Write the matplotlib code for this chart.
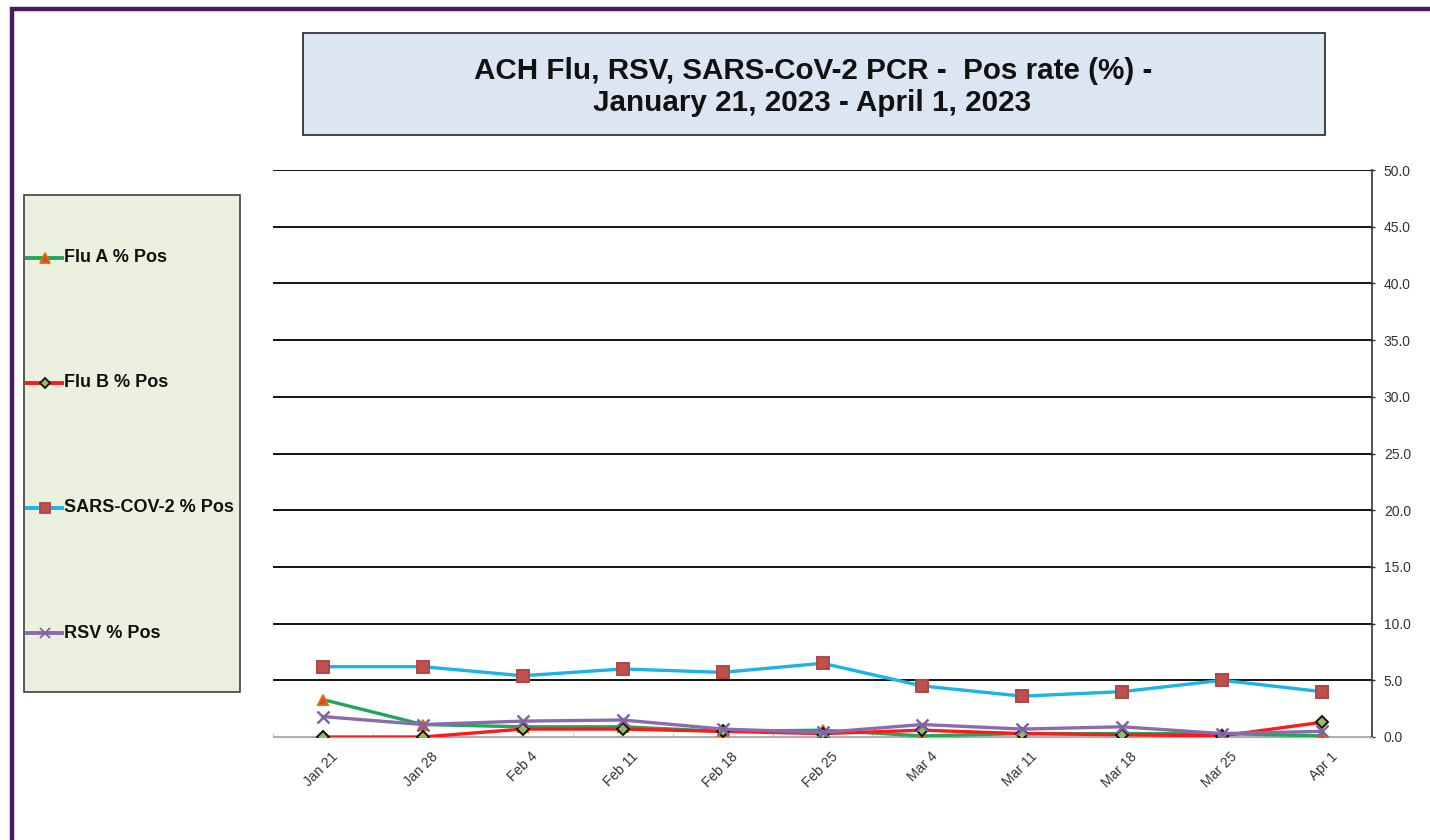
import numpy as np
import matplotlib
matplotlib.use('Agg')
import matplotlib.pyplot as plt
from matplotlib.patches import Rectangle
from matplotlib.lines import Line2D
from matplotlib.transforms import ScaledTranslation

plt.rcParams['font.family'] = ['Liberation Sans', 'DejaVu Sans']

weeks = ['Jan 21', 'Jan 28', 'Feb 4', 'Feb 11', 'Feb 18', 'Feb 25',
         'Mar 4', 'Mar 11', 'Mar 18', 'Mar 25', 'Apr 1']
flu_a = [3.3, 1.1, 0.9, 0.9, 0.5, 0.6, 0.1, 0.3, 0.3, 0.3, 0.1]
flu_b = [0.0, 0.0, 0.7, 0.7, 0.5, 0.3, 0.6, 0.3, 0.2, 0.1, 1.3]
sars = [6.2, 6.2, 5.4, 6.0, 5.7, 6.5, 4.5, 3.6, 4.0, 5.0, 4.0]
rsv = [1.8, 1.1, 1.4, 1.5, 0.7, 0.4, 1.1, 0.7, 0.9, 0.3, 0.5]

labels = ['Flu A % Pos', 'Flu B % Pos', 'SARS-COV-2 % Pos', 'RSV % Pos']
series = [flu_a, flu_b, sars, rsv]
line_cols = ['#1FA85A', '#FF1A1A', '#1BB4E6', '#8A6BAE']
markers = ['^', 'D', 's', 'x']
msizes = [7.5, 6, 8.5, 8]
mfaces = ['#D9472B', '#9BBB59', '#C0504D', '#8064A2']
medges = ['#E46C0A', '#111111', '#B04545', '#8064A2']

W, H = 1430, 840
fig = plt.figure(figsize=(W / 100, H / 100), dpi=100)


def px(x, y):
    return x / W, 1 - y / H


# purple frame
fig.add_artist(Rectangle(px(12, 860), (W + 40) / W, 851 / H, transform=fig.transFigure,
                         fill=False, edgecolor='#4B1C5C', lw=3.2))

# title box
tx, ty = px(303, 135)
fig.add_artist(Rectangle((tx, ty), (1325 - 303) / W, (135 - 33) / H, transform=fig.transFigure,
                         facecolor='#DCE6F2', edgecolor='#222222', lw=1.2))
fig.text(*px(813, 71), 'ACH Flu, RSV, SARS-CoV-2 PCR -  Pos rate (%) -', ha='center', va='center',
         fontsize=21.3, fontweight='bold', color='#111111')
fig.text(*px(812, 103), 'January 21, 2023 - April 1, 2023', ha='center', va='center',
         fontsize=21.3, fontweight='bold', color='#111111')

# main axes
x0, y0 = px(273, 737)
ax = fig.add_axes([x0, y0, (1372 - 273) / W, (737 - 170) / H])
x = np.arange(len(weeks))
for vals, lc, m, ms, mf, me in zip(series, line_cols, markers, msizes, mfaces, medges):
    ax.plot(x, vals, color=lc, lw=2.4, marker=m, markersize=ms, markerfacecolor=mf,
            markeredgecolor=me, markeredgewidth=1.4 if m != 'x' else 1.8, solid_joinstyle='round',
            zorder=3)

ax.set_xlim(-0.5, 10.5)
ax.set_ylim(0, 50)
ax.set_yticks(np.arange(0, 50.1, 5))
ax.set_yticklabels(['%.1f' % v for v in np.arange(0, 50.1, 5)])
ax.yaxis.tick_right()
ax.tick_params(axis='y', direction='inout', length=5, width=1, colors='#333333',
               labelsize=10, pad=6, labelcolor='#333333')
ax.set_xticks(x)
ax.set_xticklabels(weeks, rotation=45, ha='right', rotation_mode='anchor', fontsize=10,
                   color='#333333')
ax.tick_params(axis='x', length=0, pad=9)
shift = ScaledTranslation(8 / 100, 0, fig.dpi_scale_trans)
for lbl in ax.get_xticklabels():
    lbl.set_transform(lbl.get_transform() + shift)
ax.set_xticks(np.arange(-0.5, 10.6, 1), minor=True)
ax.tick_params(axis='x', which='minor', direction='in', length=3, color='#BBBBBB')

ax.grid(axis='y', color='black', lw=1.3, zorder=1)
ax.yaxis.get_gridlines()[0].set_color('#AAAAAA')
for s in ['top', 'left']:
    ax.spines[s].set_visible(False)
ax.spines['bottom'].set_color('#AAAAAA')
ax.spines['right'].set_color('#333333')
ax.spines['right'].set_linewidth(1.2)

# legend box
lx, ly = px(24, 692)
fig.add_artist(Rectangle((lx, ly), (240 - 24) / W, (692 - 195) / H, transform=fig.transFigure,
                         facecolor='#EBF1DE', edgecolor='#404040', lw=1.2))
for i, (lab, lc, m, ms, mf, me) in enumerate(zip(labels, line_cols, markers, msizes, mfaces, medges)):
    yy = 258 + i * 125
    a, b = px(27, yy)
    c, _ = px(62, yy)
    fig.add_artist(Line2D([a, c], [b, b], transform=fig.transFigure, color=lc, lw=2.8))
    fig.add_artist(Line2D([(a + c) / 2], [b], transform=fig.transFigure, marker=m,
                          markersize=ms * 0.9, markerfacecolor=mf, markeredgecolor=me,
                          markeredgewidth=1.3, lw=0))
    fig.text(*px(64, yy), lab, ha='left', va='center', fontsize=13, fontweight='bold',
             color='#111111')

fig.savefig('out.png', dpi=100)
